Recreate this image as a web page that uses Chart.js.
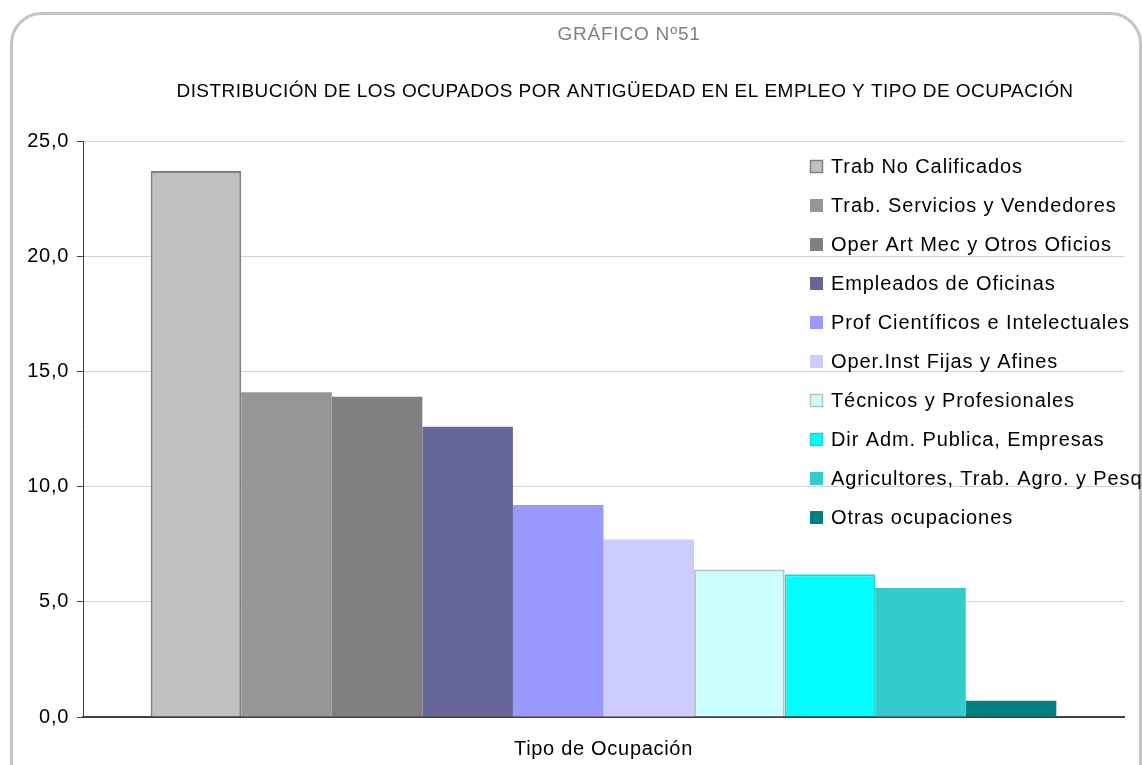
<!DOCTYPE html>
<html lang="es">

<head>
    <meta charset="UTF-8">
    <title>Gráfico Nº51 - Ocupados por antigüedad y tipo de ocupación</title>
    <script src="https://cdn.jsdelivr.net/npm/chart.js"></script>
    <style>
        body {
            margin: 0;
            background: #fff;
            overflow: hidden;
            font-family: "Liberation Sans", Arial, sans-serif;
        }

        .marco {
            position: absolute;
            left: 10px;
            top: 12px;
            width: 1126px;
            height: 800px;
            border: 3px solid #c4c4c4;
            border-radius: 32px;
        }

        #graficoOcupados {
            position: absolute;
            left: 0;
            top: 0;
        }
    </style>
</head>

<body>
    <div class="marco"></div>
    <canvas id="graficoOcupados" width="1142" height="765"></canvas>

    <script>
        // datos
        const categorias = ['Tipo de Ocupación'];
        const ocupaciones = [
            'Trab No Calificados',
            'Trab. Servicios y Vendedores',
            'Oper Art Mec y Otros Oficios',
            'Empleados de Oficinas',
            'Prof Científicos e Intelectuales',
            'Oper.Inst Fijas y Afines',
            'Técnicos y Profesionales',
            'Dir Adm. Publica, Empresas',
            'Agricultores, Trab. Agro. y Pesq',
            'Otras ocupaciones'
        ];
        const porcentajes = [23.7, 14.1, 13.9, 12.6, 9.2, 7.7, 6.4, 6.2, 5.6, 0.7];
        const colores = ['#c0c0c0', '#969696', '#808080', '#666699', '#9999ff',
            '#ccccff', '#ccffff', '#00ffff', '#33cccc', '#008080'];
        const bordes = ['#808080', null, null, null, null, null, '#c0c0c0', '#33cccc', null, null];
        const titulo = 'GRÁFICO Nº51';
        const subtitulo = 'DISTRIBUCIÓN DE LOS OCUPADOS POR ANTIGÜEDAD EN EL EMPLEO Y TIPO DE OCUPACIÓN';

        const fuente = '"Liberation Sans", Arial, sans-serif';

        // el Excel deja algo más de espacio entre letras
        const pluginEspaciado = {
            id: 'espaciado',
            beforeDraw(chart) {
                chart.ctx.letterSpacing = '0.7px';
            }
        };

        // títulos dibujados a mano (no van centrados en el canvas)
        const pluginTitulos = {
            id: 'titulos',
            afterDraw(chart) {
                const ctx = chart.ctx;
                ctx.save();
                ctx.textAlign = 'center';
                ctx.textBaseline = 'middle';
                ctx.fillStyle = '#808080';
                ctx.font = '19px ' + fuente;
                ctx.letterSpacing = '0.8px';
                ctx.fillText(titulo, 629, 35);
                ctx.fillStyle = '#000';
                ctx.font = '19px ' + fuente;
                ctx.letterSpacing = '0.45px';
                ctx.fillText(subtitulo, 625, 92);
                ctx.restore();
            }
        };

        // leyenda encima del gráfico, como en el Excel
        const pluginLeyenda = {
            id: 'leyenda',
            afterDraw(chart) {
                const ctx = chart.ctx;
                ctx.save();
                ctx.font = '20px ' + fuente;
                ctx.letterSpacing = '0.9px';
                ctx.textBaseline = 'middle';
                chart.data.datasets.forEach((ds, i) => {
                    const y = 166 + i * 39;
                    ctx.fillStyle = ds.backgroundColor;
                    ctx.fillRect(810, y - 6, 13, 13);
                    if (ds.borderWidth) {
                        ctx.strokeStyle = ds.borderColor;
                        ctx.lineWidth = 1.5;
                        ctx.strokeRect(810.5, y - 5.5, 12, 12);
                    }
                    ctx.fillStyle = '#000';
                    ctx.fillText(ds.label, 831, y + 1);
                });
                ctx.restore();
            }
        };

        const datasets = ocupaciones.map((nom, i) => ({
            label: nom,
            data: [porcentajes[i]],
            backgroundColor: colores[i],
            borderColor: bordes[i] || colores[i],
            borderWidth: bordes[i] ? 2 : 0
        }));

        const ctx = document.getElementById('graficoOcupados').getContext('2d');
        const chart = new Chart(ctx, {
            type: 'bar',
            data: {
                labels: categorias,
                datasets: datasets
            },
            options: {
                responsive: false,
                animation: false,
                layout: {
                    padding: { top: 141, right: 18, left: 0, bottom: 0 }
                },
                datasets: {
                    bar: {
                        categoryPercentage: 0.87,
                        barPercentage: 1
                    }
                },
                plugins: {
                    legend: { display: false },
                    tooltip: { enabled: false }
                },
                scales: {
                    x: {
                        grid: { display: false },
                        border: { display: true, color: '#404040', width: 2 },
                        ticks: {
                            color: '#000',
                            padding: 12,
                            font: { family: fuente, size: 20 }
                        },
                        afterFit(scale) {
                            scale.height = 48;
                        }
                    },
                    y: {
                        min: 0,
                        max: 25,
                        ticks: {
                            stepSize: 5,
                            color: '#000',
                            padding: 8,
                            font: { family: fuente, size: 20 },
                            callback: v => v.toFixed(1).replace('.', ',')
                        },
                        grid: {
                            color: '#d4d4d4',
                            tickColor: '#404040',
                            tickLength: 6
                        },
                        border: { color: '#404040', width: 1 },
                        afterFit(scale) {
                            scale.width = 83;
                        }
                    }
                }
            },
            plugins: [pluginEspaciado, pluginTitulos, pluginLeyenda]
        });
    </script>
</body>

</html>
